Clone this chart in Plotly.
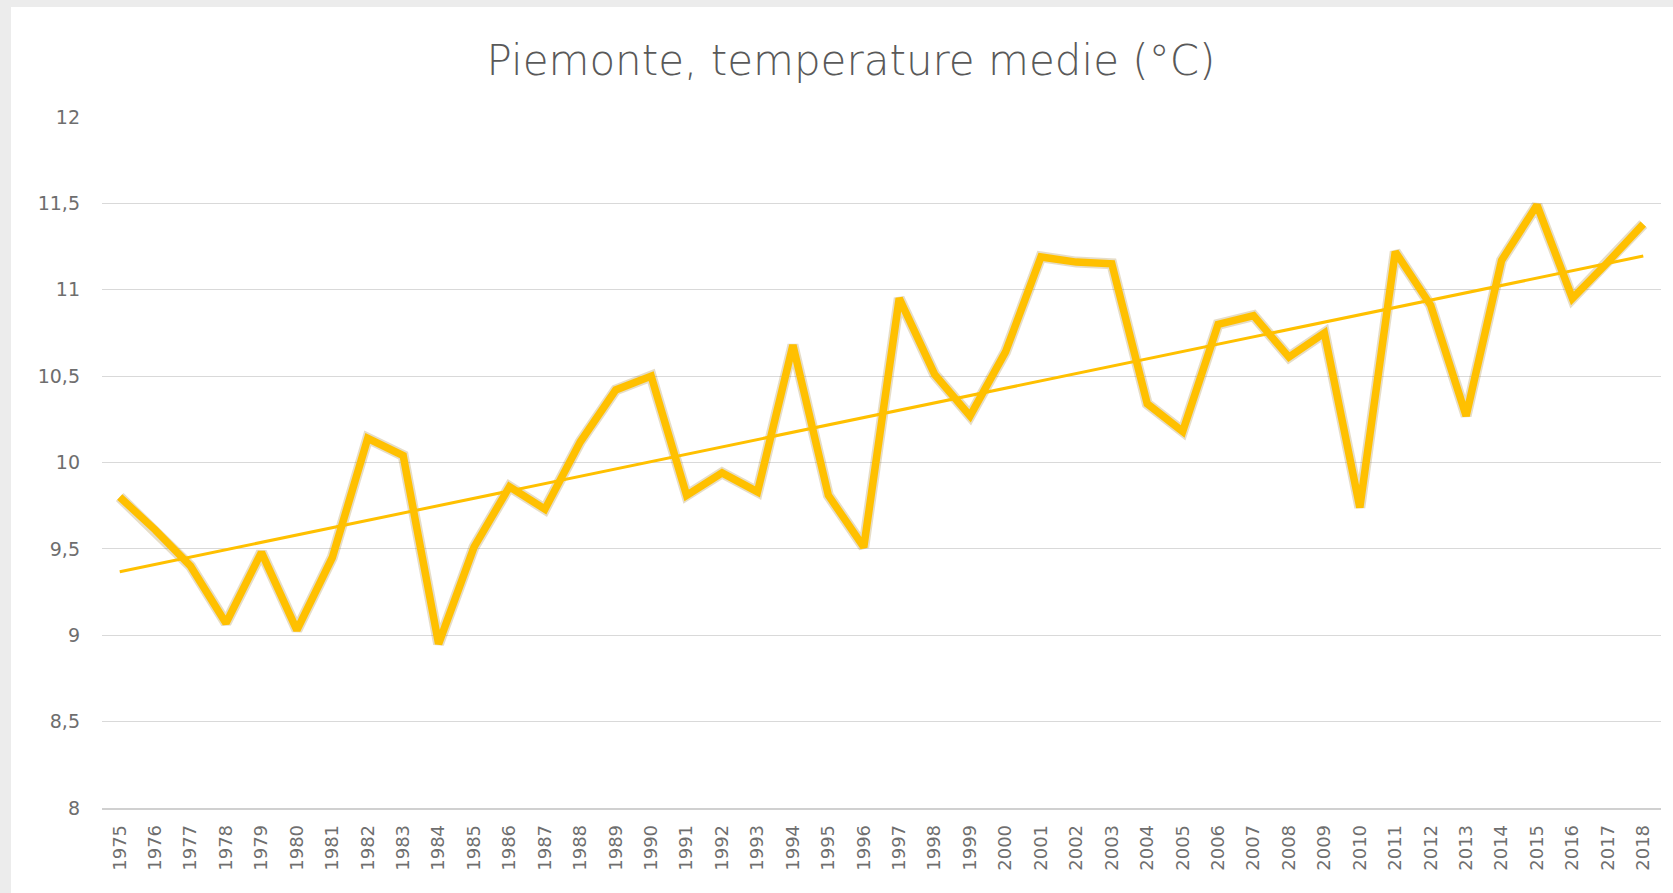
import numpy as np
import plotly.graph_objects as go

years = list(range(1975, 2019))
temps = [9.80, 9.61, 9.40, 9.07, 9.48, 9.03, 9.45, 10.14, 10.04, 8.95,
         9.51, 9.86, 9.73, 10.12, 10.42, 10.50, 9.81, 9.94, 9.83, 10.68,
         9.81, 9.51, 10.95, 10.51, 10.27, 10.64, 11.19, 11.16, 11.15, 10.34,
         10.18, 10.80, 10.85, 10.61, 10.75, 9.74, 11.22, 10.91, 10.27, 11.17,
         11.49, 10.95, 11.16, 11.38]
title_text = "Piemonte, temperature medie (°C)"
y_ticks = [8, 8.5, 9, 9.5, 10, 10.5, 11, 11.5, 12]
y_labels = ["8", "8,5", "9", "9,5", "10", "10,5", "11", "11,5", "12"]

# linear trend (as Excel's linear trendline)
coef = np.polyfit(years, temps, 1)
trend = np.polyval(coef, years)

W, H = 1673, 893
ML, MR, MT, MB = 102, 12, 117, 85
pw, ph = W - ML - MR, H - MT - MB

gold = "#FFC000"
font_family = "'DejaVu Sans', 'Open Sans', sans-serif"

fig = go.Figure()
# soft shadow under the main line
fig.add_trace(go.Scatter(x=years, y=temps, mode="lines",
                         line=dict(color="rgba(140,100,0,0.22)", width=11),
                         hoverinfo="skip", showlegend=False))
fig.add_trace(go.Scatter(x=years, y=temps, mode="lines",
                         line=dict(color=gold, width=7.5),
                         name="Temperatura media", showlegend=False))
fig.add_trace(go.Scatter(x=years, y=trend, mode="lines",
                         line=dict(color=gold, width=3),
                         name="Lineare", showlegend=False))

# light grey frame strips (top and left) like the source image border
fig.add_shape(type="rect", xref="paper", yref="paper",
              x0=-ML / pw, x1=(-ML + 11) / pw, y0=-MB / ph, y1=1 + MT / ph,
              fillcolor="#ececec", line_width=0, layer="below")
fig.add_shape(type="rect", xref="paper", yref="paper",
              x0=-ML / pw, x1=1 + MR / pw, y0=1 + (MT - 7) / ph, y1=1 + MT / ph,
              fillcolor="#ececec", line_width=0, layer="below")

fig.update_layout(
    width=W, height=H,
    margin=dict(l=ML, r=MR, t=MT, b=MB),
    paper_bgcolor="white", plot_bgcolor="white",
    title=dict(text=title_text, x=851 / W, xanchor="center", xref="container",
               y=1 - 60 / H, yanchor="middle", yref="container",
               font=dict(family=font_family, size=42, color="#595959", weight=300)),
    font=dict(family=font_family, color="#6e6e6e"),
    xaxis=dict(range=[1974.5, 2018.5], tickmode="array", tickvals=years,
               ticktext=[str(y) for y in years], tickangle=-90,
               tickfont=dict(size=18, color="#6e6e6e"),
               showgrid=False, zeroline=False, showline=True,
               linecolor="#d0d0d0", linewidth=1.5, ticks="",
               ticklabelstandoff=8),
    yaxis=dict(range=[8, 12], tickmode="array", tickvals=y_ticks, ticktext=y_labels,
               tickfont=dict(size=19, color="#6e6e6e"),
               showgrid=True, gridcolor="#d9d9d9", gridwidth=1,
               zeroline=False, showline=False, ticks="",
               ticklabelstandoff=21),
)

fig.write_html("out.html", config={"displayModeBar": False},
               post_script="document.body.style.margin='0px';")
